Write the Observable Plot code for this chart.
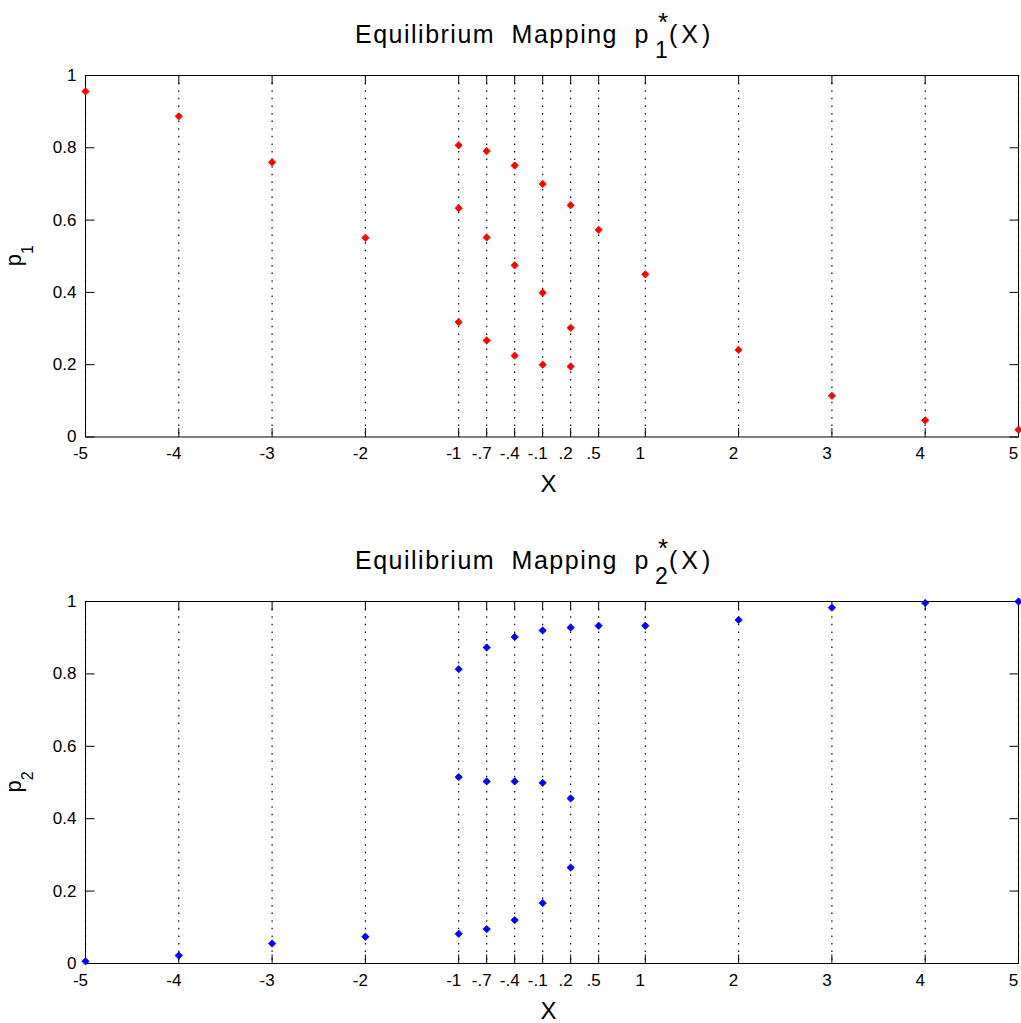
<!DOCTYPE html>
<html>
<head>
<meta charset="utf-8">
<script src="https://cdn.jsdelivr.net/npm/d3@7"></script>
<script src="https://cdn.jsdelivr.net/npm/@observablehq/plot@0.6"></script>
<style>
  body { margin: 0; background: #fff; font-family: "Liberation Sans", Arial, sans-serif; }
  #wrap { width: 1021px; }
  .title { position: relative; width: 1021px; color: #000; }
  .title span { position: absolute; white-space: nowrap; }
  .title .main { left: 355px; font-size: 25px; line-height: 25px; letter-spacing: 1.5px; word-spacing: 8px; }
  .title .sup { left: 658px; font-size: 26px; line-height: 26px; }
  .title .sub { left: 655px; font-size: 23px; line-height: 23px; }
  .title .tail { left: 669px; font-size: 25px; line-height: 25px; letter-spacing: 4px; }
  svg { display: block; }
</style>
</head>
<body>
<div id="wrap"></div>
<script>
// ---------- data ----------
const xTicks = [-5, -4, -3, -2, -1, -0.7, -0.4, -0.1, 0.2, 0.5, 1, 2, 3, 4, 5];
const xTickLabels = ["-5", "-4", "-3", "-2", "-1", "-.7", "-.4", "-.1", ".2", ".5", "1", "2", "3", "4", "5"];
const yTicks = [0, 0.2, 0.4, 0.6, 0.8, 1];
const yTickLabels = ["0", "0.2", "0.4", "0.6", "0.8", "1"];

const xEq = [-5, -4, -3, -2, -1, -1, -1, -0.7, -0.7, -0.7, -0.4, -0.4, -0.4, -0.1, -0.1, -0.1, 0.2, 0.2, 0.2, 0.5, 1, 2, 3, 4, 5];
const p1Eq = [0.956, 0.887, 0.760, 0.551, 0.807, 0.633, 0.318, 0.791, 0.552, 0.267, 0.751, 0.475, 0.225, 0.700, 0.399, 0.200, 0.641, 0.302, 0.195, 0.573, 0.450, 0.241, 0.114, 0.046, 0.020];
const p2Eq = [0.006, 0.022, 0.055, 0.074, 0.813, 0.515, 0.082, 0.873, 0.503, 0.095, 0.902, 0.503, 0.120, 0.920, 0.499, 0.167, 0.928, 0.456, 0.265, 0.933, 0.933, 0.949, 0.983, 0.996, 1.000];

const panels = [
  { idx: "1", ys: p1Eq, color: "#ff0000", titleH: 60, base: 43.3, height: 451, marginTop: 15, marginBottom: 74.5 },
  { idx: "2", ys: p2Eq, color: "#0000ff", titleH: 75, base: 58.3, height: 437, marginTop: 15, marginBottom: 60 }
];

const wrap = document.getElementById("wrap");
const fmtX = d => xTickLabels[xTicks.indexOf(d)];
const fmtY = d => yTickLabels[yTicks.indexOf(d)];
const TICK = 9;          // inward tick length in pixels
const X0 = -5, X1 = 5, Y0 = 0, Y1 = 1;
// Liberation Sans: baseline sits at 0.8465 * font-size inside a line box of line-height = font-size
const topFor = (baseline, fs) => (baseline - 0.8465 * fs).toFixed(1);

for (const p of panels) {
  // title (HTML, above the SVG)
  const tdiv = document.createElement("div");
  tdiv.className = "title";
  tdiv.style.height = p.titleH + "px";
  tdiv.innerHTML =
    `<span class="main" style="top:${topFor(p.base, 25)}px">Equilibrium Mapping p</span>` +
    `<span class="sup" style="top:${topFor(p.base - 12.1, 26)}px">*</span>` +
    `<span class="sub" style="top:${topFor(p.base + 15, 23)}px">${p.idx}</span>` +
    `<span class="tail" style="top:${topFor(p.base, 25)}px">(X)</span>`;
  wrap.appendChild(tdiv);

  const plotH = p.height - p.marginTop - p.marginBottom;
  const plotW = 1021 - 85 - 3;
  // tick lengths converted to data units of each scale
  const ty = TICK / plotH * (Y1 - Y0);
  const tx = TICK / plotW * (X1 - X0);
  const data = xEq.map((x, i) => ({ x, y: p.ys[i] }));
  const chart = Plot.plot({
    width: 1021,
    height: p.height,
    marginTop: p.marginTop,
    marginBottom: p.marginBottom,
    marginLeft: 85,
    marginRight: 3,
    style: { fontFamily: "Liberation Sans, Arial, sans-serif", fontSize: "17px", color: "#000", background: "#fff" },
    x: { domain: [X0, X1] },
    y: { domain: [Y0, Y1] },
    marks: [
      Plot.ruleX(xTicks, { stroke: "#000", strokeWidth: 1.2, strokeDasharray: "1.5,6.1" }),
      Plot.axisX(xTicks, { anchor: "bottom", tickSize: 0, tickPadding: 10, tickFormat: fmtX, label: null, dx: -5 }),
      Plot.axisY(yTicks, { anchor: "left", tickSize: 0, tickPadding: 9, tickFormat: fmtY, label: null }),
      // inward ticks on all four sides (MATLAB box style)
      Plot.link(xTicks, { x1: d => d, x2: d => d, y1: () => Y0, y2: () => Y0 + ty, stroke: "#000", strokeWidth: 1 }),
      Plot.link(xTicks, { x1: d => d, x2: d => d, y1: () => Y1, y2: () => Y1 - ty, stroke: "#000", strokeWidth: 1 }),
      Plot.link(yTicks, { y1: d => d, y2: d => d, x1: () => X0, x2: () => X0 + tx, stroke: "#000", strokeWidth: 1 }),
      Plot.link(yTicks, { y1: d => d, y2: d => d, x1: () => X1, x2: () => X1 - tx, stroke: "#000", strokeWidth: 1 }),
      Plot.frame({ stroke: "#000", strokeWidth: 1 }),
      Plot.dot(data, { x: "x", y: "y", symbol: "diamond2", fill: p.color, stroke: p.color, strokeWidth: 0.8, r: 3.3 })
    ]
  });
  wrap.appendChild(chart);

  const svg = d3.select(chart);
  const xr = chart.scale("x").range;
  const yr = chart.scale("y").range;
  const cx = (xr[0] + xr[1]) / 2 - 3;
  const cy = (yr[0] + yr[1]) / 2;
  const bottom = Math.max(yr[0], yr[1]);
  // x label
  svg.append("text")
    .attr("x", cx).attr("y", bottom + 55.5)
    .attr("text-anchor", "middle")
    .attr("font-family", "Liberation Sans, Arial, sans-serif")
    .attr("font-size", 24)
    .attr("fill", "#000")
    .text("X");
  // y label with subscript
  const yl = svg.append("text")
    .attr("transform", `translate(21,${cy}) rotate(-90)`)
    .attr("text-anchor", "middle")
    .attr("font-family", "Liberation Sans, Arial, sans-serif")
    .attr("font-size", 22)
    .attr("fill", "#000");
  yl.append("tspan").text("p");
  yl.append("tspan").attr("dy", 12).attr("font-size", 16).text(p.idx);
}
</script>
</body>
</html>
